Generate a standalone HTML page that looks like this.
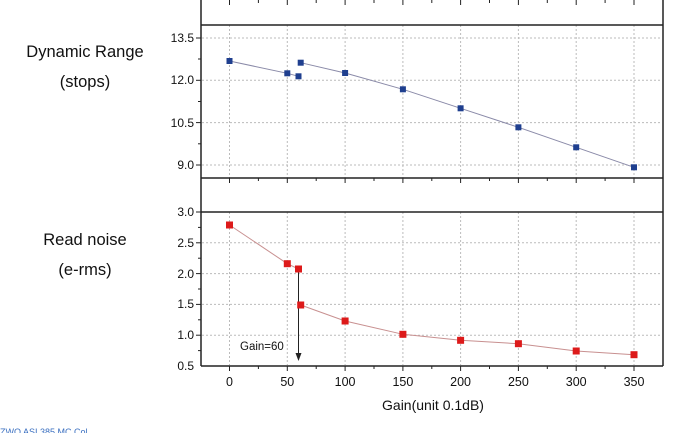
<!DOCTYPE html>
<html><head><style>body{margin:0;background:#fff}svg{display:block;font-family:"Liberation Sans",sans-serif}</style></head>
<body>
<svg width="684" height="433" viewBox="0 0 684 433">
<g stroke="#bbb" stroke-dasharray="2,2" stroke-width="1">
<line x1="202" x2="662" y1="38" y2="38"/><line x1="202" x2="662" y1="80.3" y2="80.3"/><line x1="202" x2="662" y1="122.6" y2="122.6"/><line x1="202" x2="662" y1="165" y2="165"/>
<line x1="202" x2="662" y1="242.8" y2="242.8"/><line x1="202" x2="662" y1="273.6" y2="273.6"/><line x1="202" x2="662" y1="304.4" y2="304.4"/><line x1="202" x2="662" y1="335.2" y2="335.2"/>
<g id="v"><line x1="229.5" x2="229.5" y1="25" y2="178"/><line x1="287.3" x2="287.3" y1="25" y2="178"/><line x1="345.1" x2="345.1" y1="25" y2="178"/><line x1="402.9" x2="402.9" y1="25" y2="178"/><line x1="460.6" x2="460.6" y1="25" y2="178"/><line x1="518.4" x2="518.4" y1="25" y2="178"/><line x1="576.2" x2="576.2" y1="25" y2="178"/><line x1="634" x2="634" y1="25" y2="178"/></g>
<use href="#v" transform="translate(0,187)"/>
</g>
<g stroke="#222" stroke-width="1.5" fill="none">
<line x1="201" y1="0" x2="201" y2="366"/><line x1="663" y1="0" x2="663" y2="366"/>
<line x1="201" y1="25" x2="663" y2="25"/><line x1="201" y1="178" x2="663" y2="178"/>
<line x1="201" y1="212" x2="663" y2="212"/><line x1="201" y1="366" x2="663" y2="366"/>
</g>
<g stroke="#222" stroke-width="1">
<g id="t"><line x1="229.5" x2="229.5" y1="0" y2="5"/><line x1="258.4" x2="258.4" y1="0" y2="3"/><line x1="287.3" x2="287.3" y1="0" y2="5"/><line x1="316.2" x2="316.2" y1="0" y2="3"/><line x1="345.1" x2="345.1" y1="0" y2="5"/><line x1="374" x2="374" y1="0" y2="3"/><line x1="402.9" x2="402.9" y1="0" y2="5"/><line x1="431.8" x2="431.8" y1="0" y2="3"/><line x1="460.6" x2="460.6" y1="0" y2="5"/><line x1="489.5" x2="489.5" y1="0" y2="3"/><line x1="518.4" x2="518.4" y1="0" y2="5"/><line x1="547.3" x2="547.3" y1="0" y2="3"/><line x1="576.2" x2="576.2" y1="0" y2="5"/><line x1="605.1" x2="605.1" y1="0" y2="3"/><line x1="634" x2="634" y1="0" y2="5"/></g>
<use href="#t" transform="translate(0,178)"/>
<use href="#t" transform="translate(0,366)"/>
<line x1="196" x2="201" y1="38" y2="38"/><line x1="198" x2="201" y1="59" y2="59"/><line x1="196" x2="201" y1="80.3" y2="80.3"/><line x1="198" x2="201" y1="101.5" y2="101.5"/><line x1="196" x2="201" y1="122.6" y2="122.6"/><line x1="198" x2="201" y1="143.8" y2="143.8"/><line x1="196" x2="201" y1="165" y2="165"/>
<line x1="196" x2="201" y1="212" y2="212"/><line x1="198" x2="201" y1="227.4" y2="227.4"/><line x1="196" x2="201" y1="242.8" y2="242.8"/><line x1="198" x2="201" y1="258.2" y2="258.2"/><line x1="196" x2="201" y1="273.6" y2="273.6"/><line x1="198" x2="201" y1="289" y2="289"/><line x1="196" x2="201" y1="304.4" y2="304.4"/><line x1="198" x2="201" y1="319.8" y2="319.8"/><line x1="196" x2="201" y1="335.2" y2="335.2"/><line x1="198" x2="201" y1="350.6" y2="350.6"/>
</g>
<g font-size="12" fill="#111" text-anchor="end">
<text x="194" y="42">13.5</text><text x="194" y="84">12.0</text><text x="194" y="127">10.5</text><text x="194" y="169">9.0</text>
<text x="194" y="216">3.0</text><text x="194" y="247">2.5</text><text x="194" y="278">2.0</text><text x="194" y="308">1.5</text><text x="194" y="339">1.0</text><text x="194" y="370">0.5</text>
</g>
<g font-size="12.5" fill="#111" text-anchor="middle">
<text x="229.5" y="386">0</text><text x="287.3" y="386">50</text><text x="345.1" y="386">100</text><text x="402.9" y="386">150</text><text x="460.6" y="386">200</text><text x="518.4" y="386">250</text><text x="576.2" y="386">300</text><text x="634" y="386">350</text>
<text x="433" y="410" font-size="14">Gain(unit 0.1dB)</text>
<text x="85" y="57" font-size="16.5">Dynamic Range</text><text x="85" y="87" font-size="16.5">(stops)</text>
<text x="85" y="245" font-size="16.5">Read noise</text><text x="85" y="275" font-size="16.5">(e-rms)</text>
</g>
<polyline points="229.5,61 287.3,73.3 298.5,76.3" fill="none" stroke="#8a8aa8" stroke-width="1"/>
<polyline points="300.7,62.7 345.1,73 402.9,89.3 460.6,108.3 518.4,127.3 576.2,147.3 634,167.3" fill="none" stroke="#8a8aa8" stroke-width="1"/>
<g fill="#1f3f8f"><rect x="226.5" y="58" width="6" height="6"/><rect x="284.3" y="70.3" width="6" height="6"/><rect x="295.5" y="73.3" width="6" height="6"/><rect x="297.7" y="59.7" width="6" height="6"/><rect x="342.1" y="70" width="6" height="6"/><rect x="399.9" y="86.3" width="6" height="6"/><rect x="457.6" y="105.3" width="6" height="6"/><rect x="515.4" y="124.3" width="6" height="6"/><rect x="573.2" y="144.3" width="6" height="6"/><rect x="631" y="164.3" width="6" height="6"/></g>
<polyline points="229.5,225 287.3,263.7 298.5,269" fill="none" stroke="#c89090" stroke-width="1"/>
<polyline points="300.7,305 345.1,321 402.9,334.3 460.6,340.3 518.4,343.7 576.2,351 634,354.7" fill="none" stroke="#c89090" stroke-width="1"/>
<line x1="298.5" y1="270" x2="298.5" y2="355" stroke="#222" stroke-width="1"/>
<polygon points="295.5,353 301.5,353 298.5,361" fill="#222"/>
<text x="240" y="350" font-size="11.5" fill="#111">Gain=60</text>
<g fill="#dd1a1a"><rect x="226" y="221.5" width="7" height="7"/><rect x="283.8" y="260.2" width="7" height="7"/><rect x="295" y="265.5" width="7" height="7"/><rect x="297.2" y="301.5" width="7" height="7"/><rect x="341.6" y="317.5" width="7" height="7"/><rect x="399.4" y="330.8" width="7" height="7"/><rect x="457.1" y="336.8" width="7" height="7"/><rect x="514.9" y="340.2" width="7" height="7"/><rect x="572.7" y="347.5" width="7" height="7"/><rect x="630.5" y="351.2" width="7" height="7"/></g>
<text x="0" y="435" font-size="9" fill="#3a6fc0">ZWO ASI 385 MC Col</text>
</svg>
</body></html>
